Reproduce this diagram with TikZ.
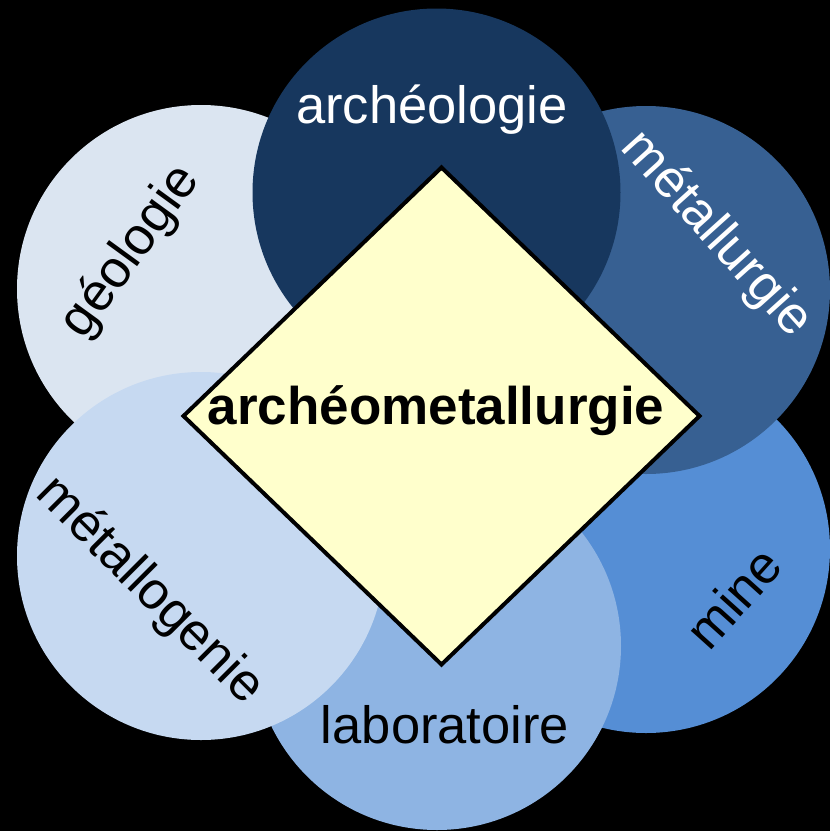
\documentclass[tikz,border=0pt]{standalone}
\usepackage{fontspec}
\setmainfont{Liberation Sans}
\definecolor{cArch}{HTML}{17375E}
\definecolor{cMetu}{HTML}{376092}
\definecolor{cMine}{HTML}{558ED5}
\definecolor{cLabo}{HTML}{8EB4E3}
\definecolor{cMego}{HTML}{C6D9F1}
\definecolor{cGeol}{HTML}{DBE5F1}
\definecolor{cDiam}{HTML}{FFFFCC}
\begin{document}
\begin{tikzpicture}[x=1pt,y=-1pt,
  disc/.style={circle,draw=none,minimum size=368pt,inner sep=0pt},
  lab/.style={inner sep=0pt,font=\fontsize{52.5pt}{60pt}\selectfont},
  core/.style={inner sep=0pt,font=\fontsize{53pt}{60pt}\selectfont\bfseries,text=black}]
\fill[black] (0,0) rectangle (830,831);
\useasboundingbox (0,0) rectangle (830,831);
% circles (bottom to top)
\node[disc,fill=cGeol] (geol) at (201,289) {};
\node[disc,fill=cMine] (mine) at (646,549) {};
\node[disc,fill=cLabo] (labo) at (437,646) {};
\node[disc,fill=cMego] (mego) at (201,556) {};
\node[disc,fill=cMetu] (metu) at (646,290) {};
\node[disc,fill=cArch] (arch) at (436.5,192.5) {};
% labels
\node[lab,text=white] (tarch) at (432,109.5) {archéologie\vphantom{lg}};
\node[lab,text=white,rotate=-48] (tmetu) at (716,235) {métallurgie\vphantom{lg}};
\node[lab,text=black,rotate=48] (tmine) at (737,601) {mine\vphantom{lg}};
\node[lab,text=black] (tlabo) at (445,729.5) {laboratoire\vphantom{lg}};
\node[lab,text=black,rotate=-45] (tmego) at (149.5,591) {métallogenie\vphantom{lg}};
\node[lab,text=black,rotate=54] (tgeol) at (131,252) {géologie\vphantom{lg}};
% diamond
\coordinate (dt) at (441.5,167.5);
\coordinate (dr) at (699.5,416);
\coordinate (db) at (441.5,664.5);
\coordinate (dl) at (183.5,416);
\draw[line width=4pt,fill=cDiam,line join=miter] (dt) -- (dr) -- (db) -- (dl) -- cycle;
\node[core] (center) at (436,410.5) {archéometallurgie\vphantom{lg}};
\end{tikzpicture}
\end{document}
